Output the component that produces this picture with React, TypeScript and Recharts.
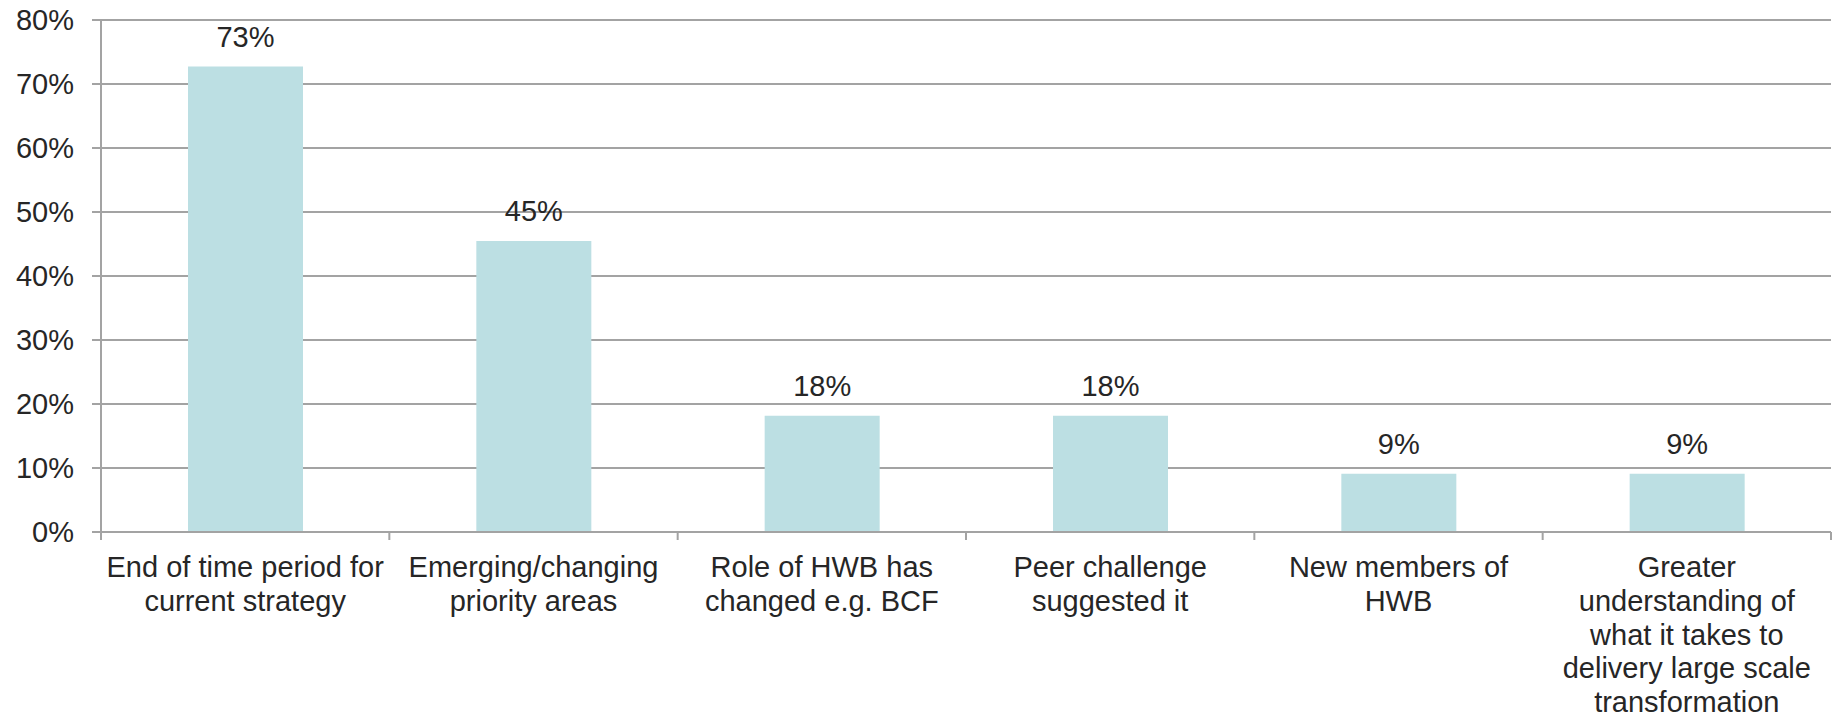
import { BarChart, Bar, XAxis, YAxis, CartesianGrid, LabelList } from 'recharts'

const categoryLines = [
  ['End of time period for', 'current strategy'],
  ['Emerging/changing', 'priority areas'],
  ['Role of HWB has', 'changed e.g. BCF'],
  ['Peer challenge', 'suggested it'],
  ['New members of', 'HWB'],
  ['Greater', 'understanding of', 'what it takes to', 'delivery large scale', 'transformation'],
]
const categories = categoryLines.map(l => l.join(' '))
const shares = [72.73, 45.45, 18.18, 18.18, 9.09, 9.09]
const yTicks = [0, 10, 20, 30, 40, 50, 60, 70, 80]

const W = 1836
const H = 715
const MARGIN = { top: 20, right: 5, bottom: 0, left: 0 }
const Y_AXIS_W = 101
const X_AXIS_H = 183
const BAND = (W - MARGIN.left - MARGIN.right - Y_AXIS_W) / categories.length

const GREY = '#a3a3a3'
const TEXT = '#262626'
const BAR = '#bcdfe3'
const FONT = '"Liberation Sans", Arial, sans-serif'
const FS = 29

const data = categories.map((c, i) => ({ name: c, value: shares[i] }))

function CategoryTick(props: any) {
  const { x, y, payload, index } = props
  const half = payload?.offset ?? BAND / 2
  const axisY = y - 8
  const lines = categoryLines[index] ?? [payload.value]
  return (
    <g>
      <line x1={x - half} x2={x - half} y1={axisY} y2={axisY + 8} stroke={GREY} strokeWidth={2} />
      {index === categories.length - 1 && (
        <line x1={x + half} x2={x + half} y1={axisY} y2={axisY + 8} stroke={GREY} strokeWidth={2} />
      )}
      <text x={x} y={y} textAnchor="middle" fill={TEXT} fontSize={FS} fontFamily={FONT}>
        {lines.map((l: string, i: number) => (
          <tspan key={i} x={x} y={y + 37 + i * 33.8}>{l}</tspan>
        ))}
      </text>
    </g>
  )
}

export default function App() {
  return (
    <div style={{ position: 'absolute', left: 0, top: 0, background: '#fff' }}>
      <BarChart width={W} height={H} data={data} margin={MARGIN}>
        <CartesianGrid vertical={false} stroke={GREY} strokeWidth={2} />
        <XAxis
          dataKey="name"
          height={X_AXIS_H}
          interval={0}
          tickLine={false}
          tickSize={8}
          tickMargin={0}
          axisLine={{ stroke: GREY, strokeWidth: 2 }}
          tick={<CategoryTick />}
        />
        <YAxis
          width={Y_AXIS_W}
          domain={[0, 80]}
          ticks={yTicks}
          interval={0}
          tickFormatter={(v: number) => `${v}%`}
          tickSize={9}
          tickMargin={18}
          axisLine={{ stroke: GREY, strokeWidth: 2 }}
          tickLine={{ stroke: GREY, strokeWidth: 2 }}
          tick={{ fill: TEXT, fontSize: FS, fontFamily: FONT }}
        />
        <Bar dataKey="value" fill={BAR} barSize={115} isAnimationActive={false}>
          <LabelList
            dataKey="value"
            position="top"
            offset={20}
            formatter={(v: any) => `${Math.round(v)}%`}
            style={{ fill: TEXT, fontSize: FS, fontFamily: FONT }}
          />
        </Bar>
      </BarChart>
    </div>
  )
}
